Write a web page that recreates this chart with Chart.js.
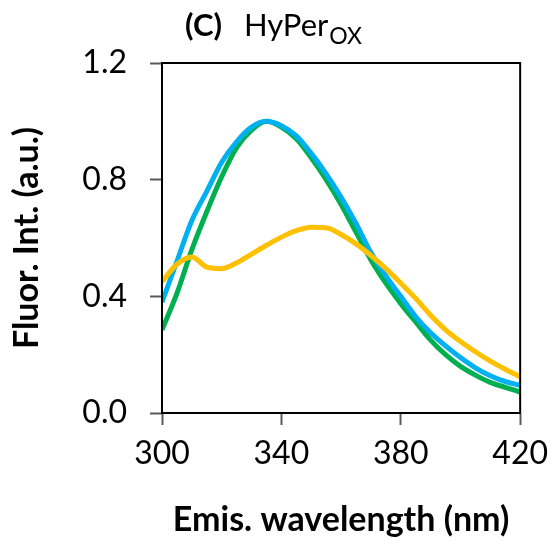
<!DOCTYPE html>
<html>
<head>
<meta charset="utf-8">
<script src="https://cdn.jsdelivr.net/npm/chart.js@4.4.1/dist/chart.umd.min.js"></script>
<style>
  html, body { margin: 0; padding: 0; background: #fff; }
  #wrap { width: 557px; height: 544px; }
</style>
</head>
<body>
<div id="wrap"><canvas id="grafico"></canvas></div>
<script>
// emission wavelengths (nm) and normalised intensities
const wavelengths = [300, 305, 310, 315, 320, 325, 330, 335, 340, 345, 350, 355, 360,
                     365, 370, 375, 380, 385, 390, 395, 400, 405, 410, 415, 420];
const serieAzul = [0.38, 0.52, 0.66, 0.76, 0.86, 0.93, 0.98, 1.00, 0.985, 0.95, 0.89, 0.82, 0.74,
                   0.65, 0.55, 0.47, 0.40, 0.33, 0.275, 0.23, 0.19, 0.155, 0.128, 0.108, 0.095];
const serieVerde = [0.285, 0.41, 0.56, 0.69, 0.81, 0.91, 0.97, 1.00, 0.98, 0.94, 0.875, 0.80, 0.715,
                    0.62, 0.525, 0.445, 0.375, 0.312, 0.25, 0.20, 0.16, 0.13, 0.105, 0.088, 0.072];
const serieAmarela = [0.45, 0.51, 0.535, 0.50, 0.495, 0.515, 0.545, 0.575, 0.603, 0.625, 0.637, 0.635, 0.612,
                      0.58, 0.54, 0.495, 0.445, 0.393, 0.335, 0.285, 0.245, 0.21, 0.178, 0.15, 0.124];
const xTicks = [300, 340, 380, 420];
const yTicks = [0.0, 0.4, 0.8, 1.2];

const FONTE = 'Lato, "Open Sans", sans-serif';

const pontos = (ys) => ys.map((y, i) => ({ x: wavelengths[i], y: y }));

const linha = (label, ys, cor) => ({
    label: label,
    data: pontos(ys),
    borderColor: cor,
    borderWidth: 5,
    pointRadius: 0,
    fill: false,
    cubicInterpolationMode: 'monotone'
});

// caixa em volta da area do grafico + titulo com subscrito
const molduraETitulo = {
    id: 'molduraETitulo',
    afterDatasetsDraw(chart) {
        const { ctx, chartArea: a } = chart;
        ctx.save();
        ctx.strokeStyle = '#000';
        ctx.lineWidth = 2;
        ctx.strokeRect(a.left, a.top, a.right - a.left, a.bottom - a.top);
        ctx.restore();
    },
    afterDraw(chart) {
        const ctx = chart.ctx;
        ctx.save();
        ctx.fillStyle = '#000';
        ctx.textBaseline = 'alphabetic';
        ctx.textAlign = 'left';
        let x = 185;
        const base = 36;
        ctx.font = 'bold 31px ' + FONTE;
        ctx.fillText('(C)', x, base);
        x += ctx.measureText('(C)').width + 22;
        ctx.font = '31px ' + FONTE;
        ctx.fillText('HyPer', x, base);
        x += ctx.measureText('HyPer').width + 1;
        ctx.font = '23px ' + FONTE;
        ctx.fillText('OX', x, base + 8);
        ctx.restore();
    }
};

new Chart(document.getElementById('grafico'), {
    type: 'line',
    data: {
        datasets: [
            linha('amarela', serieAmarela, '#FFC000'),
            linha('azul', serieAzul, '#00B0F0'),
            linha('verde', serieVerde, '#00B050')
        ]
    },
    options: {
        responsive: true,
        maintainAspectRatio: false,
        animation: false,
        layout: { padding: { top: 63, right: 32, left: 0, bottom: 0 } },
        plugins: {
            legend: { display: false },
            tooltip: { enabled: false }
        },
        scales: {
            x: {
                type: 'linear',
                min: 300,
                max: 420,
                afterFit: (s) => { s.height = 131; },
                afterBuildTicks: (s) => { s.ticks = xTicks.map(v => ({ value: v })); },
                grid: { drawOnChartArea: false, drawTicks: true, tickLength: 12, tickColor: '#595959', tickWidth: 2 },
                border: { color: '#000', width: 2 },
                ticks: {
                    color: '#000',
                    padding: 9,
                    font: { family: FONTE, size: 32 },
                    maxRotation: 0
                },
                title: {
                    display: true,
                    text: 'Emis. wavelength (nm)',
                    color: '#000',
                    font: { family: FONTE, size: 34, weight: 'bold' },
                    padding: { top: 0, bottom: 4 }
                }
            },
            y: {
                min: 0,
                max: 1.2,
                afterFit: (s) => { s.width = 162; },
                afterBuildTicks: (s) => { s.ticks = yTicks.map(v => ({ value: v })); },
                grid: { drawOnChartArea: false, drawTicks: true, tickLength: 12, tickColor: '#595959', tickWidth: 2 },
                border: { color: '#000', width: 2 },
                ticks: {
                    color: '#000',
                    padding: 23,
                    font: { family: FONTE, size: 32 },
                    callback: (v) => Number(v).toFixed(1)
                },
                title: {
                    display: true,
                    text: 'Fluor. Int. (a.u.)',
                    color: '#000',
                    font: { family: FONTE, size: 34, weight: 'bold' },
                    padding: { top: 7, bottom: 0 }
                }
            }
        }
    },
    plugins: [molduraETitulo]
});
</script>
</body>
</html>
